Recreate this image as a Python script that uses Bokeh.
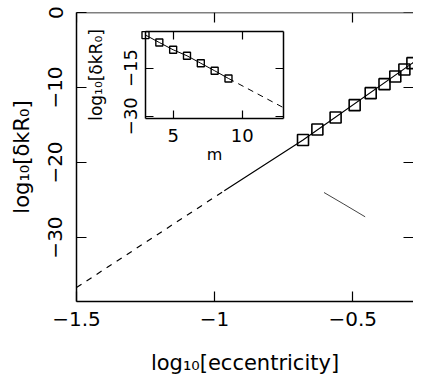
from bokeh.plotting import figure
from bokeh.models import Range1d, LinearAxis, FixedTicker
from bokeh.embed import file_html
from bokeh.resources import INLINE

# ---------------- data ----------------
# main panel: numerical points (squares)
ecc_log = [-0.680, -0.628, -0.562, -0.493, -0.435, -0.385, -0.346, -0.313, -0.284]
dk_log = [-17.0, -15.6, -14.0, -12.35, -10.75, -9.55, -8.53, -7.6, -6.75]
# main panel: asymptotic line (dashed part and solid part)
theory_dash_x = [-1.5, -0.965]
theory_dash_y = [-36.67, -23.77]
theory_solid_x = [-0.965, -0.680, -0.284, -0.265]
theory_solid_y = [-23.77, -17.0, -6.75, -6.3]
# main panel: thin curve
curve_x = [-0.604, -0.532, -0.455]
curve_y = [-24.0, -25.55, -27.24]
# inset: dependence on m
inset_m = [3, 4, 5, 6, 7, 8, 9]
inset_dk = [-4.72, -7.03, -9.3, -11.17, -13.5, -15.84, -18.24]
inset_ext_m = [9, 13]
inset_ext_dk = [-18.24, -27.4]

# ticks / labels
x_ticks = [-1.5, -1.0, -0.5]
x_tick_labels = ["\u22121.5", "\u22121", "\u22120.5"]
y_ticks = [0, -10, -20, -30]
y_tick_labels = ["0", "\u221210", "\u221220", "\u221230"]
inset_x_ticks = [5, 10]
inset_x_tick_labels = ["5", "10"]
inset_y_ticks = [-30, -15]
inset_y_tick_labels = ["\u221230", "\u221215"]
inset_m_range = (3, 13)
inset_dk_range = (-30.6, -3.6)
x_range_main = (-1.5, -0.28)
y_range_main = (-38.53, 0)
x_axis_span = (-1.5, -0.236)   # full width of the original frame (used to centre the label)

x_label = "log\u2081\u2080[eccentricity]"
y_label = "log\u2081\u2080[\u03b4kR\u2080]"
inset_x_label = "m"

# ---------------- layout ----------------
W, H = 413, 381
BL, BT = 76, 12
FW = W - BL            # frame width
FH = 289               # frame height
BB = H - BT - FH

# inset box inside the frame (pixels from frame's left/top)
IL, IR, IT, IB = 69.0, 207.3, 19.0, 105.6
sx = (IR - IL) / (inset_m_range[1] - inset_m_range[0])
sy = (IB - IT) / (inset_dk_range[1] - inset_dk_range[0])
ix_start = inset_m_range[0] - IL / sx
ix_end = inset_m_range[1] + (FW - IR) / sx
iy_top = inset_dk_range[1] + IT / sy
iy_bot = inset_dk_range[0] - (FH - IB) / sy

FONT = "DejaVu Sans"

p = figure(width=W, height=H, x_range=Range1d(*x_range_main), y_range=Range1d(*y_range_main),
           min_border_left=BL, min_border_right=0, min_border_top=BT, min_border_bottom=BB,
           output_backend="svg", toolbar_location=None)
p.extra_x_ranges = {"ix": Range1d(ix_start, ix_end)}
p.extra_y_ranges = {"iy": Range1d(iy_bot, iy_top)}
p.grid.visible = False
p.outline_line_color = None
p.background_fill_color = "white"
p.border_fill_color = "white"


def style_axis(ax, ticks, labels, size="20px", tick_len=10):
    ax.ticker = FixedTicker(ticks=ticks)
    ax.major_label_overrides = {t: l for t, l in zip(ticks, labels)}
    ax.major_tick_in = tick_len
    ax.major_tick_out = 0
    ax.minor_tick_line_color = None
    ax.axis_line_width = 1.5
    ax.axis_line_color = "black"
    ax.major_tick_line_color = "black"
    ax.major_tick_line_width = 1.2
    ax.major_label_text_font = FONT
    ax.major_label_text_font_size = size
    ax.major_label_text_color = "black"
    ax.axis_label_text_font = FONT
    ax.axis_label_text_font_style = "normal"
    ax.axis_label_text_color = "black"


# main axes
xa = p.xaxis[0]
style_axis(xa, x_ticks, x_tick_labels)
xa.bounds = x_axis_span
xa.major_label_standoff = 10
xa.axis_label = x_label
xa.axis_label_text_font_size = "21px"
xa.axis_label_standoff = 22

ya = p.yaxis[0]
style_axis(ya, y_ticks, y_tick_labels)
ya.major_label_orientation = "vertical"
ya.major_label_standoff = 14
ya.axis_label = y_label
ya.axis_label_text_font_size = "21px"
ya.axis_label_standoff = 12

top = LinearAxis(fixed_location=y_range_main[1])
style_axis(top, x_ticks, ["" for _ in x_ticks])
p.add_layout(top, "above")

right = LinearAxis(fixed_location=x_range_main[1])
style_axis(right, y_ticks, ["" for _ in y_ticks])
right.axis_line_color = None
p.add_layout(right, "right")

# main glyphs
p.line(theory_dash_x, theory_dash_y, line_color="black", line_width=1.2, line_dash="6 6")
p.line(theory_solid_x, theory_solid_y, line_color="black", line_width=1.2)
p.line(curve_x, curve_y, line_color="#444444", line_width=1.0)
p.scatter(ecc_log, dk_log, marker="square", size=11, fill_color=None,
          line_color="black", line_width=1.6)

# inset
p.quad(left=[inset_m_range[0]], right=[inset_m_range[1]],
       bottom=[inset_dk_range[0]], top=[inset_dk_range[1]],
       fill_color="white", line_color=None, x_range_name="ix", y_range_name="iy")
p.line(inset_m, inset_dk, line_color="black", line_width=1.0,
       x_range_name="ix", y_range_name="iy")
p.line(inset_ext_m, inset_ext_dk, line_color="black", line_width=1.0, line_dash="6 5",
       x_range_name="ix", y_range_name="iy")
p.scatter(inset_m, inset_dk, marker="square", size=7, fill_color=None,
          line_color="black", line_width=1.4, x_range_name="ix", y_range_name="iy")

ib = LinearAxis(x_range_name="ix", y_range_name="iy", fixed_location=inset_dk_range[0],
                bounds=inset_m_range)
style_axis(ib, inset_x_ticks, inset_x_tick_labels, size="18px", tick_len=8)
ib.major_label_standoff = 11
ib.axis_label = inset_x_label
ib.axis_label_text_font_size = "16px"
ib.axis_label_standoff = -1
p.add_layout(ib, "below")

il = LinearAxis(x_range_name="ix", y_range_name="iy", fixed_location=inset_m_range[0],
                bounds=inset_dk_range)
style_axis(il, inset_y_ticks, inset_y_tick_labels, size="18px", tick_len=8)
il.major_label_orientation = "vertical"
il.major_label_standoff = 8
il.axis_label = y_label
il.axis_label_text_font_size = "17px"
il.axis_label_standoff = 16
p.add_layout(il, "left")

it = LinearAxis(x_range_name="ix", y_range_name="iy", fixed_location=inset_dk_range[1],
                bounds=inset_m_range)
style_axis(it, inset_x_ticks, ["" for _ in inset_x_ticks], tick_len=8)
p.add_layout(it, "above")

ir = LinearAxis(x_range_name="ix", y_range_name="iy", fixed_location=inset_m_range[1],
                bounds=inset_dk_range)
style_axis(ir, inset_y_ticks, ["" for _ in inset_y_ticks], tick_len=8)
p.add_layout(ir, "right")

open("out.html", "w").write(file_html(p, INLINE))
